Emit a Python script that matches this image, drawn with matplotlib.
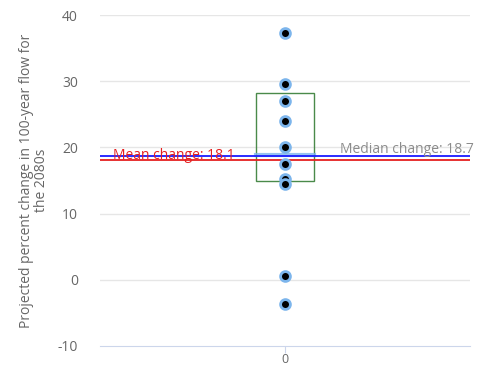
import matplotlib.pyplot as plt
import numpy as np

plt.rcParams['font.family'] = ['Open Sans', 'DejaVu Sans']
plt.rcParams['axes.unicode_minus'] = False

values = [37.3, 29.6, 27.0, 24.0, 20.0, 17.5, 15.2, 14.4, 0.5, -3.7]
box_low, box_high = 14.9, 28.2
mean_val = 18.1
median_val = 18.7
yticks = [-10, 0, 10, 20, 30, 40]

fig = plt.figure(figsize=(4.81, 3.68), dpi=100)
ax = fig.add_axes([0.208, 0.06, 0.769, 0.899])

for t in yticks[1:]:
    ax.axhline(t, color="#e6e6e6", lw=1, zorder=0)

# box
ax.add_patch(plt.Rectangle((-0.078, box_low), 0.156, box_high - box_low,
                           fill=False, ec="#4a8a4a", lw=1, zorder=2))
ax.plot([-0.078, 0.078], [18.9, 18.9], color="#7cb5ec", lw=3, alpha=0.8, zorder=2)

ax.axhline(median_val, color="#1a1aff", lw=1.3, zorder=3)
ax.axhline(mean_val, color="#e52020", lw=1.3, zorder=3)
ax.text(-0.465, mean_val - 0.5, "Mean change: 18.1", color="#e52020", fontsize=10, va="bottom")
ax.text(0.15, median_val - 0.2, "Median change: 18.7", color="#8c8c8c", fontsize=10, va="bottom",
        clip_on=False)

ax.scatter(np.zeros(len(values)), values, s=50, color="black", edgecolors="#7cb5ec",
           linewidths=2, zorder=4)

ax.set_xlim(-0.5, 0.5)
ax.set_ylim(-10, 40)
ax.set_yticks(yticks)
ax.set_xticks([0])
for s in ["top", "right", "left"]:
    ax.spines[s].set_visible(False)
ax.spines["bottom"].set_color("#ccd6eb")
ax.tick_params(axis="y", length=0, pad=16, labelcolor="#666666", labelsize=10)
ax.tick_params(axis="x", length=5, color="#ccd6eb", labelcolor="#666666", labelsize=9, pad=0)
ax.set_ylabel("Projected percent change in 100-year flow for\nthe 2080s", color="#666666",
              fontsize=10, labelpad=6, linespacing=1.05)

fig.savefig("out.png", dpi=100)
